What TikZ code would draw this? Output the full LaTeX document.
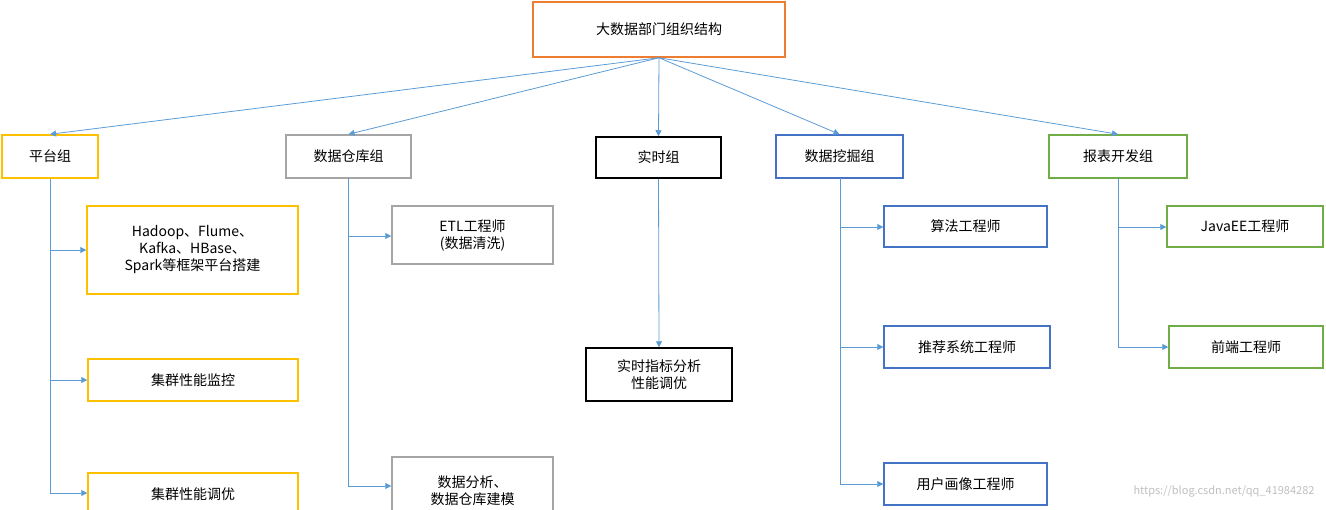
\documentclass[tikz,border=0pt]{standalone}
\usepackage{fontspec}
\setmainfont{Noto Sans CJK SC}
\usetikzlibrary{arrows.meta}
\definecolor{ora}{HTML}{ED7D31}
\definecolor{yel}{HTML}{FFC000}
\definecolor{gry}{HTML}{A5A5A5}
\definecolor{blu}{HTML}{4472C4}
\definecolor{grn}{HTML}{70AD47}
\definecolor{ln}{HTML}{5B9BD5}
\begin{document}
\begin{tikzpicture}[x=1pt,y=-1pt,
 bx/.style={draw=#1,line width=1.5pt,fill=white,inner sep=0pt,align=center,font=\fontsize{14}{17}\selectfont},
 ar/.style={draw=ln,line width=0.8pt,-{Triangle[length=6pt,width=6pt]}},
 ln/.style={draw=ln,line width=0.8pt}]
\useasboundingbox (0,0) rectangle (1326,509);
\clip (0,0) rectangle (1326,509);
\newcommand\bx[6]{\node[bx=#1,minimum width=#4-#3,minimum height=#6-#5] (#2) at ({(#3+#4)/2},{(#5+#6)/2})}
\bx{ora}{top}{533}{785}{2}{57}{大数据部门组织结构};
\bx{yel}{g1}{2}{98}{135}{178}{平台组};
\bx{gry}{g2}{286}{411}{135}{178}{数据仓库组};
\bx{black}{g3}{596}{721}{137}{178}{实时组};
\bx{blu}{g4}{776}{903}{135}{178}{数据挖掘组};
\bx{grn}{g5}{1049}{1187}{135}{178}{报表开发组};
\bx{yel}{a1}{87}{298}{206}{294}{Hadoop、Flume、\\Kafka、HBase、\\Spark等框架平台搭建};
\bx{yel}{a2}{88}{298}{359}{401}{集群性能监控};
\bx{yel}{a3}{88}{298}{473}{515}{集群性能调优};
\bx{gry}{b1}{392}{553}{206}{264}{ETL工程师\\(数据清洗)};
\bx{gry}{b2}{392}{553}{457}{540}{数据分析、\\数据仓库建模\\ };
\bx{black}{c1}{586}{732}{348}{401}{实时指标分析\\性能调优};
\bx{blu}{d1}{884}{1047}{206}{247}{算法工程师};
\bx{blu}{d2}{884}{1050}{326}{368}{推荐系统工程师};
\bx{blu}{d3}{884}{1047}{463}{505}{用户画像工程师};
\bx{grn}{e1}{1167}{1323}{206}{247}{JavaEE工程师};
\bx{grn}{e2}{1169}{1323}{326}{368}{前端工程师};
\foreach \g in {g1,g2,g3,g4,g5} \draw[ar] (top.south) -- (\g.north);
\draw[ln] (g1.south -| 50,0) -- (50,493);
\draw[ar] (50,250) -- (a1.west |- 0,250);
\draw[ar] (50,380) -- (a2.west |- 0,380);
\draw[ar] (50,493) -- (a3.west |- 0,493);
\draw[ln] (348,178) -- (348,486);
\draw[ar] (348,236) -- (b1.west |- 0,236);
\draw[ar] (348,486) -- (b2.west |- 0,486);
\draw[ar] (g3.south) -- (c1.north);
\draw[ln] (840,178) -- (840,484);
\draw[ar] (840,227) -- (d1.west |- 0,227);
\draw[ar] (840,347) -- (d2.west |- 0,347);
\draw[ar] (840,484) -- (d3.west |- 0,484);
\draw[ln] (1118,178) -- (1118,347);
\draw[ar] (1118,227) -- (e1.west |- 0,227);
\draw[ar] (1118,347) -- (e2.west |- 0,347);
\node[text=gray!50,font=\fontsize{11}{13}\selectfont,anchor=east] (wm) at (1318,491) {https://blog.csdn.net/qq\_41984282};
\end{tikzpicture}
\end{document}
